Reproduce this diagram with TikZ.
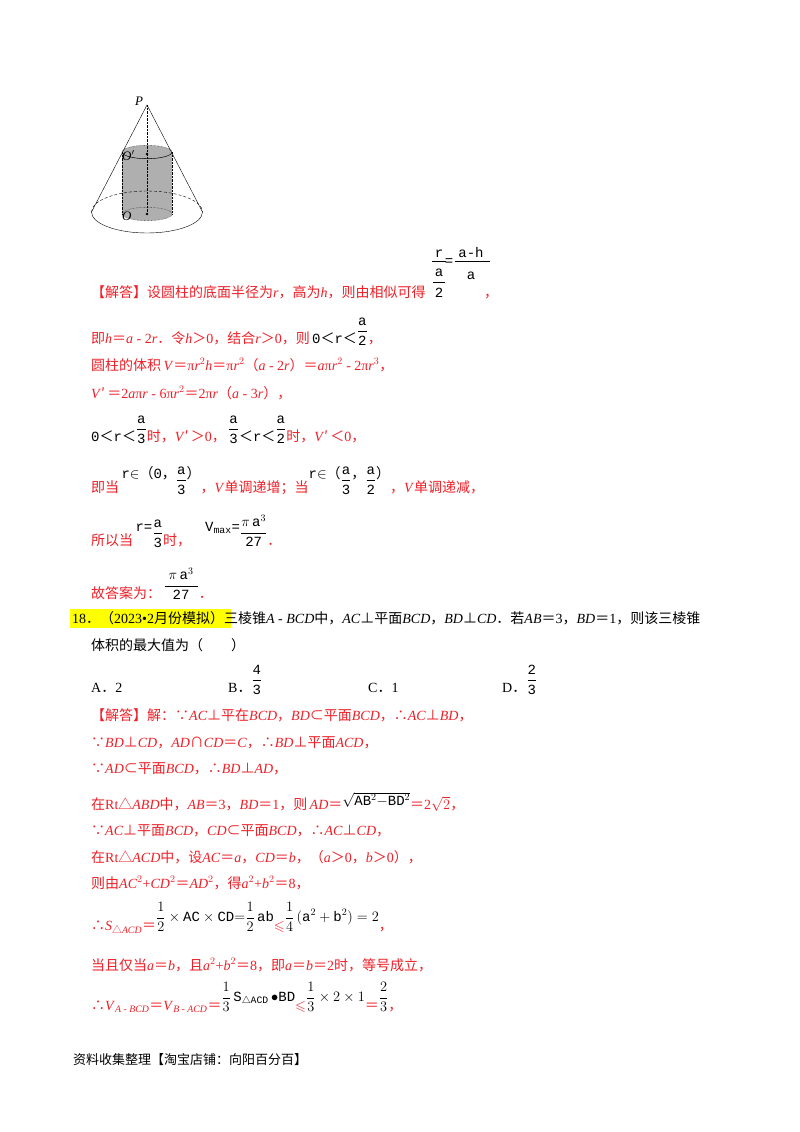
\documentclass[tikz,border=0pt]{standalone}
\usepackage{amsmath,amssymb}
\usepackage{fontspec}
\setmainfont{Liberation Serif}
\setmonofont{Liberation Mono}
\newfontfamily\cjk{Noto Sans CJK SC}
\newcommand\C[1]{{\cjk #1}}
\newcommand\I[1]{\textit{#1}}
\newcommand\M[1]{{\color{black}\ttfamily #1}}
\newcommand\fr[2]{{\color{black}\raisebox{0.55em}{$\displaystyle\frac{\mathtt{#1}}{\mathtt{#2}}$}}}
\definecolor{ans}{RGB}{238,32,40}
\definecolor{hl}{RGB}{255,255,0}
\definecolor{cyl}{RGB}{175,175,175}
\begin{document}
\begin{tikzpicture}[x=1pt,y=-1pt,
  txt/.style={anchor=base west,inner sep=0,font=\fontsize{14}{16}\selectfont},
  mono/.style={anchor=base,inner sep=0,font=\ttfamily\fontsize{14}{16}\selectfont},
  red/.style={text=ans}]
\useasboundingbox (0,0) rectangle (800,1132);
\fill[white] (0,0) rectangle (800,1132);
% figure
\fill[cyl] (122,152) rectangle (172,214);
\fill[cyl] (147,214) ellipse[x radius=25,y radius=6.7];
\fill[cyl] (147,152) ellipse[x radius=25,y radius=6.7];
\draw[densely dotted] (122,152) -- (122,214) (172,152) -- (172,214);
\draw[densely dotted] (147,214) ellipse[x radius=25,y radius=6.7];
\draw[densely dotted] (147,152) ellipse[x radius=25,y radius=6.7];
\draw (172,152) arc[start angle=0,end angle=180,x radius=25,y radius=6.7];
\draw[densely dashed] (91.5,212) arc[start angle=180,end angle=360,x radius=55.5,y radius=21];
\draw (91.5,212) arc[start angle=180,end angle=0,x radius=55.5,y radius=21];
\draw (91.5,212) -- (147,105) -- (202.5,212);
\draw[densely dotted] (147,105) -- (147,214);
\fill (147,154) circle (1.3) (147,214) circle (1.3);
\node[txt,font=\itshape\fontsize{13}{14}\selectfont] (P) at (135,105) {P};
\node[txt,font=\itshape\fontsize{13}{14}\selectfont] (O1) at (122,160) {O\rlap{$'$}};
\node[txt,font=\itshape\fontsize{13}{14}\selectfont] (O) at (122,220) {O};
% fraction line 1
\node[mono] (fr) at (439,257) {r};
\node[mono] (fa) at (439,276) {a};
\node[mono] (f2) at (439,297) {2};
\node[mono] (feq) at (449,265) {=};
\node[mono] (fah) at (471,257) {a-h};
\node[mono] (fa2) at (471,279) {a};
\draw (432,261.5) -- (446,261.5) (433,282) -- (445,282) (455,261.5) -- (490,261.5);
\node[txt,red] (l1) at (91,297) {\C{【解答】设圆柱的底面半径为}\I{r}\C{，高为}\I{h}\C{，则由相似可得}};
\node[txt,red] (l1b) at (484,297) {\C{，}};
\node[txt,red] (l2) at (91,343) {\C{即}\I{h}\C{＝}\I{a} - 2\I{r}\C{．令}\I{h}\C{＞}0\C{，结合}\I{r}\C{＞}0\C{，则}\,\M{0\C{＜}r\C{＜}}\fr{a}{2}\C{，}};
\node[txt,red] (l3) at (91,370) {\C{圆柱的体积}\,\I{V}\C{＝}π\I{r}$^2$\I{h}\C{＝}π\I{r}$^2$\C{（}\I{a} - 2\I{r}\C{）＝}\I{a}π\I{r}$^2$ - 2π\I{r}$^3$\C{，}};
\node[txt,red] (l4) at (91,398) {\I{V}\C{′\,＝}2\I{a}π\I{r} - 6π\I{r}$^2$\C{＝}2π\I{r}\C{（}\I{a} - 3\I{r}\C{），}};
\node[txt,red] (l5) at (91,441) {\M{0\C{＜}r\C{＜}}\fr{a}{3}\C{时，}\I{V}\C{′\,＞}0\C{，}\,\fr{a}{3}\M{\C{＜}r\C{＜}}\fr{a}{2}\C{时，}\I{V}\C{′\,＜}0\C{，}};
\node[txt,red] (l6) at (91,492) {\C{即当}\,\M{\raisebox{1em}{r$\in$\C{（}0\C{，}}}\fr{a}{3}\M{\raisebox{1em}{\C{）}}}\C{，}\I{V}\C{单调递增；当}\M{\raisebox{1em}{r$\in$\C{（}}}\fr{a}{3}\M{\raisebox{1em}{\C{，}}}\fr{a}{2}\M{\raisebox{1em}{\C{）}}}\C{，}\I{V}\C{单调递减，}};
\node[txt,red] (l7) at (91,545) {\C{所以当}\,\M{\raisebox{1em}{r=}}\fr{a}{3}\C{时，}\quad\M{\raisebox{1em}{V\textsubscript{max}=}}\raisebox{0.6em}{\color{black}$\displaystyle\frac{\pi\,\mathtt{a}^3}{\mathtt{27}}$}\C{．}};
\node[txt,red] (l8) at (91,598) {\C{故答案为：}\,\raisebox{0.6em}{\color{black}$\displaystyle\frac{\;\pi\,\mathtt{a}^3\;}{\mathtt{27}}$}\C{．}};
% question
\fill[hl] (70,609) rectangle (231,628);
\node[txt] (q1) at (72,623) {18\C{．（}2023•2\C{月份模拟）三棱锥}\I{A} - \I{BCD}\C{中，}\I{AC}\C{⊥平面}\I{BCD}\C{，}\I{BD}\C{⊥}\I{CD}\C{．若}\I{AB}\C{＝}3\C{，}\I{BD}\C{＝}1\C{，则该三棱锥}};
\node[txt] (q2) at (91,650) {\C{体积的最大值为（　　）}};
\node[txt] (oA) at (91,692) {A\C{．}2};
\node[txt] (oB) at (228,692) {B\C{．}\fr{4}{3}};
\node[txt] (oC) at (368,692) {C\C{．}1};
\node[txt] (oD) at (502,692) {D\C{．}\fr{2}{3}};
% answer
\node[txt,red] (a1) at (91,720) {\C{【解答】解：∵}\I{AC}\C{⊥平在}\I{BCD}\C{，}\I{BD}\C{⊂平面}\I{BCD}\C{，∴}\I{AC}\C{⊥}\I{BD}\C{，}};
\node[txt,red] (a2) at (91,747) {\C{∵}\I{BD}\C{⊥}\I{CD}\C{，}\I{AD}\C{∩}\I{CD}\C{＝}\I{C}\C{，∴}\I{BD}\C{⊥平面}\I{ACD}\C{，}};
\node[txt,red] (a3) at (91,773) {\C{∵}\I{AD}\C{⊂平面}\I{BCD}\C{，∴}\I{BD}\C{⊥}\I{AD}\C{，}};
\node[txt,red] (a4) at (91,809) {\C{在}Rt\C{△}\I{ABD}\C{中，}\I{AB}\C{＝}3\C{，}\I{BD}\C{＝}1\C{，则}\,\I{AD}\C{＝}{\color{black}\raisebox{0.5ex}{$\sqrt{\mathtt{AB}^2\mathtt{-BD}^2}$}}\C{＝}2$\sqrt{2}$\C{，}};
\node[txt,red] (a5) at (91,835) {\C{∵}\I{AC}\C{⊥平面}\I{BCD}\C{，}\I{CD}\C{⊂平面}\I{BCD}\C{，∴}\I{AC}\C{⊥}\I{CD}\C{，}};
\node[txt,red] (a6) at (91,862) {\C{在}Rt\C{△}\I{ACD}\C{中，设}\I{AC}\C{＝}\I{a}\C{，}\I{CD}\C{＝}\I{b}\C{，（}\I{a}\C{＞}0\C{，}\I{b}\C{＞}0\C{），}};
\node[txt,red] (a7) at (91,888) {\C{则由}\I{AC}$^2$+\I{CD}$^2$\C{＝}\I{AD}$^2$\C{，得}\I{a}$^2$+\I{b}$^2$\C{＝}8\C{，}};
\node[txt,red] (a8) at (91,930) {\C{∴}\I{S}\textsubscript{\C{△}\I{ACD}}\C{＝}{\color{black}\raisebox{0.6em}{$\displaystyle\frac12\times\mathtt{AC}\times\mathtt{CD}{=}\frac12\,\mathtt{ab}$}}$\leqslant${\color{black}\raisebox{0.6em}{$\displaystyle\frac14\,(\mathtt{a}^2+\mathtt{b}^2)=2$}}\C{，}};
\node[txt,red] (a9) at (91,970) {\C{当且仅当}\I{a}\C{＝}\I{b}\C{，且}\I{a}$^2$+\I{b}$^2$\C{＝}8\C{，即}\I{a}\C{＝}\I{b}\C{＝}2\C{时，等号成立，}};
\node[txt,red] (a10) at (91,1010) {\C{∴}\I{V}\textsubscript{\I{A} - \I{BCD}}\C{＝}\I{V}\textsubscript{\I{B} - \I{ACD}}\C{＝}{\color{black}\raisebox{0.6em}{$\displaystyle\frac13\,\mathtt{S}_{\triangle\mathtt{ACD}}\,{\bullet}\mathtt{BD}$}}$\leqslant${\color{black}\raisebox{0.6em}{$\displaystyle\frac13\times2\times1$}}\C{＝}{\color{black}\raisebox{0.6em}{$\displaystyle\frac23$}}\C{，}};
\node[txt,font=\fontsize{13}{15}\selectfont] (ft) at (73,1064) {\C{资料收集整理【淘宝店铺：向阳百分百】}};
\end{tikzpicture}
\end{document}
